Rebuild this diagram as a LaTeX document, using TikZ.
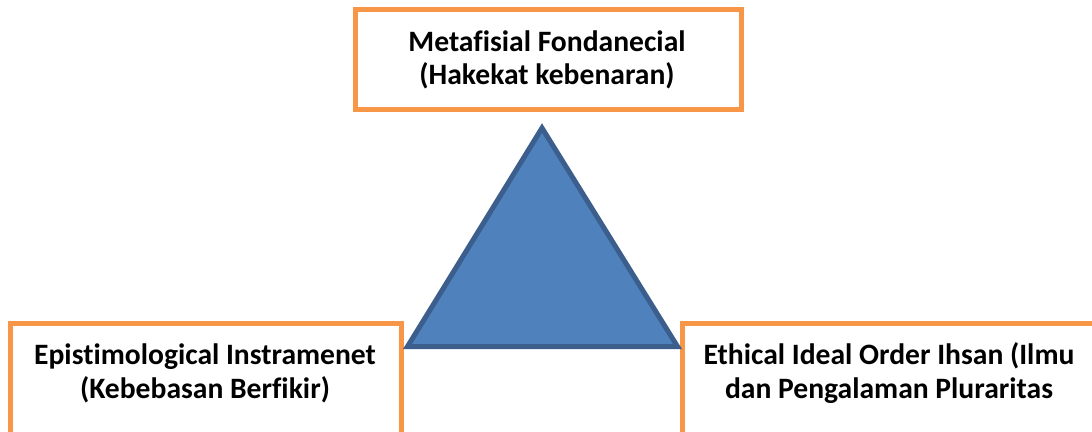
\documentclass[tikz,border=0pt]{standalone}
\usepackage{fontspec}
\setmainfont[Ligatures=CommonOff]{Carlito}
\definecolor{boxorange}{HTML}{F79646}
\definecolor{trifill}{HTML}{4F81BD}
\definecolor{triline}{HTML}{3B5E8C}
\begin{document}
\begin{tikzpicture}[x=1pt,y=-1pt,
  box/.style={draw=boxorange,line width=5pt,fill=white},
  lbl/.style={font=\fontsize{29.6}{34}\selectfont\bfseries,anchor=base,inner sep=0pt},
  tri/.style={fill=trifill,draw=triline,line width=5pt,line join=miter}]
\useasboundingbox (0,0) rectangle (1092,431);
\draw[box] (355.5,9.5) rectangle (741.5,109.5);
\draw[box] (10.5,323.5) rectangle (401.5,460);
\draw[box] (682.5,323.5) rectangle (1110,460);
\coordinate (apex) at (542,128);
\coordinate (bl) at (407.5,346.5);
\coordinate (br) at (677.5,346.5);
\draw[tri] (apex) -- (bl) -- (br) -- cycle;
\node[lbl] (t1) at (547,51) {Metafisial Fondanecial};
\node[lbl] (t2) at (547,84) {(Hakekat kebenaran)};
\node[lbl] (l1) at (205,364) {Epistimological Instramenet};
\node[lbl] (l2) at (205,398) {(Kebebasan Berfikir)};
\node[lbl] (r1) at (889,364) {Ethical Ideal Order Ihsan (Ilmu};
\node[lbl] (r2) at (889,398) {dan Pengalaman Pluraritas};
\end{tikzpicture}
\end{document}
